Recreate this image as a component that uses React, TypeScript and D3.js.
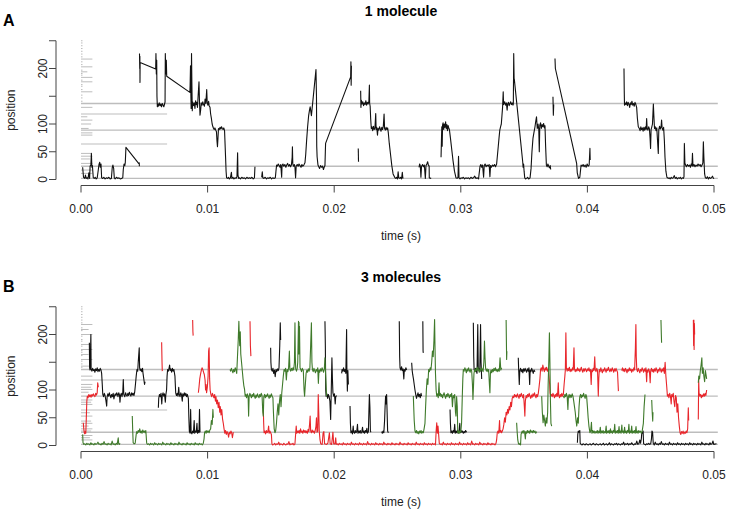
import React from "react";
import * as d3 from "d3";

type Pt = [number, number];

// time in ms, position in units
const X_TICKS = [0, 10, 20, 30, 40, 50];
const X_TICK_LABELS = ["0.00", "0.01", "0.02", "0.03", "0.04", "0.05"];
const Y_TICKS = [0, 50, 100, 150, 200, 250];
const Y_TICK_LABELS = ["0", "50", "100", "", "200", ""];

const LEVELS_FULL = [2, 24, 89, 137];
const LEVELS_MID = [64, 118];
const MID_END = 6.8;
const FULL_END = 50.3;

const TOP_RUG = [11, 17, 29, 37, 42, 47, 80, 84, 92, 100, 107, 113, 130, 158, 176, 184, 194, 203, 217];
const TOP_RUG_LEN = [0.9, 0.9, 0.9, 0.7, 0.9, 0.8, 0.9, 0.9, 0.6, 0.8, 0.9, 0.5, 0.9, 0.9, 0.9, 0.9, 0.5, 0.9, 0.9];
const BOT_RUG = [10, 14, 18, 26, 30, 35, 40, 44, 53, 59, 74, 78, 82, 96, 101, 105, 110, 125, 143, 155, 164, 173, 182, 200, 209, 218];
const BOT_RUG_LEN = [0.9, 0.7, 0.9, 0.8, 0.9, 0.6, 0.9, 0.8, 0.9, 0.7, 0.9, 0.8, 0.9, 0.6, 0.9, 0.8, 0.9, 0.9, 0.7, 0.9, 0.6, 0.9, 0.8, 0.9, 0.6, 0.9];
const FINE_RUG = [141, 147, 152, 162, 168, 171, 179, 188, 191, 197, 207, 212, 221, 226, 231, 236, 241, 246, 250];

// ---------- 1 molecule (black) ----------
const m1a: Pt[] = [[0.13,22],[0.2,4],[0.3,2],[0.35,8],[0.42,2],[0.5,3],[0.55,1],[0.62,12],[0.68,2],[0.72,24],[0.78,26],[0.82,47],[0.86,22],[0.9,25],[0.97,3],[1.05,2],[1.12,4],[1.2,1],[1.28,3],[1.37,18],[1.42,27],[1.48,31],[1.52,22],[1.58,28],[1.63,3],[1.72,2],[1.8,4],[1.9,1],[2.0,3],[2.1,2],[2.2,4],[2.3,1],[2.4,2],[2.47,22],[2.52,26],[2.58,20],[2.63,3],[2.7,1],[2.8,4],[2.9,2],[3.0,3],[3.1,1],[3.2,2],[3.3,3],[3.34,18],[3.4,28],[3.46,25],[3.5,31],[3.55,58],[4.55,29],[4.6,30],[4.61,24]];
const m1b: Pt[] = [[4.62,227],[4.64,200],[4.65,222],[4.66,175],[4.67,211],[5.9,199],[5.92,227],[5.95,190],[5.98,215],[6.0,150],[6.03,131],[6.08,136],[6.12,132],[6.18,138],[6.24,133],[6.3,136],[6.36,131],[6.42,137],[6.48,134],[6.54,131],[6.6,136],[6.64,140],[6.66,227],[6.7,190],[6.74,215],[6.77,186],[8.6,157],[8.62,170],[8.65,205],[8.68,150],[8.7,128],[8.73,227],[8.76,170],[8.79,124],[8.82,140],[8.88,133],[8.95,138],[9.0,128],[9.05,142],[9.1,135],[9.15,139],[9.2,130],[9.25,150],[9.32,176],[9.36,140],[9.4,116],[9.45,125],[9.5,138],[9.56,134],[9.62,140],[9.68,135],[9.75,132],[9.8,145],[9.86,137],[9.93,162],[9.97,138],[10.02,134],[10.08,141],[10.12,133],[10.19,130],[10.24,118],[10.3,110],[10.36,100],[10.42,95],[10.47,92],[10.52,90],[10.58,93],[10.64,89],[10.7,86],[10.74,70],[10.78,59],[10.82,75],[10.86,92],[10.92,90],[10.98,94],[11.04,91],[11.1,95],[11.16,92],[11.22,90],[11.28,93],[11.34,88],[11.37,70],[11.42,40],[11.46,15],[11.5,3],[11.58,2],[11.65,4],[11.72,1],[11.8,3],[11.88,13],[11.92,2],[12.0,4],[12.08,1],[12.16,3],[12.24,2],[12.32,5],[12.37,48],[12.4,8],[12.45,2],[12.52,3],[12.6,1],[12.7,4],[12.8,2],[12.9,3],[13.0,1],[13.1,4],[13.2,2],[13.3,3],[13.4,2],[13.5,4],[13.6,1],[13.7,3],[13.74,23]];
const m1c: Pt[] = [[14.27,4],[14.32,14],[14.36,3],[14.45,2],[14.55,4],[14.65,1],[14.75,3],[14.85,2],[14.95,4],[15.05,1],[15.15,3],[15.25,2],[15.35,3],[15.4,15],[15.45,26],[15.5,24],[15.58,28],[15.65,25],[15.72,22],[15.78,27],[15.85,4],[15.88,25],[15.95,28],[16.02,24],[16.1,27],[16.18,22],[16.25,26],[16.32,29],[16.4,24],[16.48,27],[16.55,23],[16.62,26],[16.68,40],[16.7,59],[16.73,28],[16.78,24],[16.85,27],[16.9,22],[16.95,3],[17.0,25],[17.08,27],[17.15,24],[17.22,28],[17.3,25],[17.38,22],[17.45,27],[17.52,24],[17.6,26],[17.69,30],[17.75,45],[17.82,70],[17.9,95],[17.98,115],[18.05,125],[18.1,131],[18.14,125],[18.2,115],[18.56,198],[18.6,150],[18.62,60],[18.65,41],[18.72,26],[18.78,23],[18.85,20],[18.92,25],[19.0,22],[19.08,24],[19.15,18],[19.22,23],[19.27,25],[19.3,50],[19.32,65],[21.3,185],[21.32,212],[21.34,170],[21.36,205]];
const m1d: Pt[] = [[21.9,56],[21.92,32]];
const m1e: Pt[] = [[22.09,160],[22.11,130],[22.14,143],[22.2,136],[22.26,140],[22.32,133],[22.38,138],[22.44,135],[22.5,142],[22.56,134],[22.62,139],[22.68,136],[22.74,141],[22.78,170],[22.8,137],[22.84,132],[22.88,110],[22.93,92],[22.98,95],[23.04,88],[23.1,96],[23.16,90],[23.22,93],[23.28,119],[23.31,90],[23.36,94],[23.42,80],[23.46,92],[23.52,89],[23.58,95],[23.64,91],[23.7,87],[23.76,94],[23.82,90],[23.88,96],[23.94,118],[23.98,92],[24.04,89],[24.1,94],[24.16,90],[24.22,93],[24.27,85],[24.35,65],[24.45,45],[24.55,25],[24.65,10],[24.8,3],[24.86,2],[24.92,4],[25.0,1],[25.05,14],[25.1,3],[25.18,2],[25.25,4],[25.32,1],[25.38,13],[25.42,3],[25.46,2]];
const m1f: Pt[] = [[26.7,22],[26.75,28],[26.8,25],[26.85,4],[26.9,24],[26.98,27],[27.05,23],[27.12,26],[27.2,2],[27.25,25],[27.32,28],[27.38,32],[27.44,26],[27.5,24],[27.51,3],[27.6,2],[27.66,3]];
const m1g: Pt[] = [[28.44,40],[28.47,70],[28.5,95],[28.53,60],[28.56,98],[28.6,102],[28.65,90],[28.7,100],[28.75,94],[28.8,104],[28.85,92],[28.9,99],[28.95,88],[29.0,97],[29.05,93],[29.1,90],[29.18,75],[29.28,55],[29.38,35],[29.5,15],[29.62,3],[29.7,2],[29.78,4],[29.82,42],[29.86,3],[29.94,1],[30.02,3],[30.1,2],[30.2,4],[30.3,1],[30.4,3],[30.5,2],[30.6,3],[30.7,1],[30.8,4],[30.9,2],[31.0,3],[31.1,6],[31.2,2],[31.3,3],[31.4,1],[31.52,24],[31.58,27],[31.65,22],[31.72,26],[31.8,4],[31.85,25],[31.92,28],[32.0,23],[32.08,26],[32.16,24],[32.24,27],[32.3,5],[32.35,25],[32.42,22],[32.5,26],[32.58,24],[32.66,27],[32.74,23],[32.83,28],[32.9,45],[32.96,60],[33.02,75],[33.08,89],[33.14,95],[33.2,100],[33.25,115],[33.3,130],[33.35,158],[33.38,135],[33.41,137],[33.47,140],[33.53,134],[33.6,138],[33.66,125],[33.7,136],[33.76,139],[33.82,133],[33.88,137],[33.94,140],[34.0,135],[34.06,138],[34.12,134],[34.15,136],[34.18,227],[34.21,182],[34.23,180],[34.89,32],[34.92,22],[34.96,28],[35.0,15],[35.05,3],[35.12,1],[35.2,2],[35.28,4],[35.36,1],[35.47,3],[35.55,20],[35.62,50],[35.7,74],[35.78,85],[35.86,95],[35.92,105],[35.98,113],[36.04,92],[36.1,100],[36.16,90],[36.2,50],[36.24,98],[36.3,102],[36.36,92],[36.42,99],[36.48,95],[36.54,101],[36.6,93],[36.65,97],[36.7,60],[36.76,26],[36.82,23],[36.88,28],[36.94,24],[37.0,21],[37.06,25],[37.1,18]];
const m1h: Pt[] = [[37.28,149],[37.31,116],[37.34,135]];
const m1i: Pt[] = [[37.44,218],[37.47,200],[39.15,29],[39.2,12],[39.3,2],[39.4,4],[39.5,26],[39.58,24],[39.66,27],[39.74,23],[39.82,26],[39.9,22],[39.98,28],[40.06,24],[40.14,26],[40.2,56],[40.22,35]];
const m1j: Pt[] = [[42.89,200],[42.91,160],[42.93,134],[42.98,138],[43.04,135],[43.1,140],[43.16,133],[43.22,139],[43.28,136],[43.34,130],[43.4,138],[43.46,135],[43.52,141],[43.58,134],[43.64,137],[43.7,132],[43.76,139],[43.82,136],[43.89,130],[43.95,110],[44.02,95],[44.1,92],[44.16,88],[44.22,95],[44.28,90],[44.34,93],[44.4,87],[44.46,94],[44.52,89],[44.58,95],[44.64,90],[44.68,110],[44.72,92],[44.78,89],[44.84,95],[44.9,91],[44.95,75],[44.99,56],[45.03,90],[45.08,94],[45.14,100],[45.18,120],[45.21,136],[45.25,115],[45.3,92],[45.36,95],[45.42,88],[45.48,93],[45.54,70],[45.6,47],[45.64,90],[45.7,96],[45.76,91],[45.82,95],[45.86,107],[45.9,93],[45.96,89],[46.02,94],[46.08,70],[46.13,40],[46.2,15],[46.28,4],[46.39,2],[46.46,3],[46.54,1],[46.62,4],[46.7,2],[46.78,3],[46.86,7],[46.94,2],[47.02,4],[47.1,1],[47.18,3],[47.26,2],[47.34,4],[47.42,1],[47.5,3],[47.58,2],[47.63,5],[47.66,65],[47.7,30],[47.75,26],[47.82,23],[47.9,27],[47.98,24],[48.06,26],[48.14,22],[48.2,28],[48.26,25],[48.3,47],[48.34,24],[48.42,27],[48.5,23],[48.58,26],[48.66,24],[48.74,28],[48.82,25],[48.9,27],[48.98,23],[49.06,26],[49.12,30],[49.16,68],[49.2,40],[49.26,10],[49.32,3],[49.4,2],[49.48,5],[49.56,1],[49.64,4],[49.72,2],[49.8,3],[49.88,6],[49.96,2],[50.0,3]];
const ONE_MOLECULE = [m1a, m1b, m1c, m1d, m1e, m1f, m1g, m1h, m1i, m1j];

// ---------- 3 molecules: black ----------
const b1: Pt[] = [[0.66,185],[0.68,140],[0.72,136],[0.78,200],[0.8,138],[0.86,134],[0.92,139],[0.98,135],[1.04,137],[1.1,132],[1.16,138],[1.22,135],[1.28,140],[1.34,133],[1.4,137],[1.46,134],[1.52,139],[1.58,136],[1.63,130],[1.68,110],[1.72,92],[1.78,88],[1.84,94],[1.9,90],[1.96,82],[2.03,71],[2.06,87],[2.12,93],[2.18,89],[2.24,95],[2.3,90],[2.36,86],[2.42,92],[2.48,88],[2.54,94],[2.6,84],[2.64,89],[2.7,93],[2.76,90],[2.82,95],[2.88,92],[2.92,88],[2.98,95],[3.04,91],[3.08,78],[3.12,90],[3.18,94],[3.24,88],[3.3,96],[3.34,119],[3.38,92],[3.46,88],[3.52,95],[3.58,91],[3.64,89],[3.7,94],[3.76,90],[3.82,96],[3.88,92],[3.94,89],[4.0,95],[4.06,91],[4.12,94],[4.18,90],[4.24,96],[4.3,110],[4.36,125],[4.42,137],[4.48,134],[4.52,150],[4.6,176],[4.63,140],[4.68,135],[4.74,138],[4.8,133],[4.86,139],[4.9,130],[4.96,120],[5.02,110],[5.06,115]];
const b2: Pt[] = [[6.11,68],[6.14,85],[6.2,92],[6.26,88],[6.32,94],[6.38,75],[6.42,90],[6.48,95],[6.54,89],[6.6,93],[6.66,78],[6.7,91],[6.76,100],[6.8,125],[6.84,137],[6.9,134],[6.96,140],[7.0,145],[7.04,135],[7.1,138],[7.16,132],[7.22,139],[7.28,134],[7.34,137],[7.42,125],[7.48,95],[7.54,90],[7.6,94],[7.66,89],[7.72,105],[7.76,92],[7.82,88],[7.88,95],[7.94,91],[8.0,80],[8.04,93],[8.1,89],[8.16,95],[8.22,90],[8.28,94],[8.34,88],[8.4,92],[8.48,85],[8.52,50],[8.56,25],[8.62,22],[8.66,65],[8.7,24],[8.76,21],[8.82,26],[8.88,23],[8.94,45],[8.98,22],[9.04,26],[9.1,24],[9.16,40],[9.2,22],[9.26,27],[9.32,23],[9.36,65],[9.4,24]];
const b3: Pt[] = [[14.98,176],[15.0,150],[15.04,137],[15.1,134],[15.16,139],[15.22,130],[15.28,136],[15.34,124],[15.4,137],[15.46,133],[15.52,138],[15.58,135],[15.64,140],[15.7,180],[15.74,221],[15.77,190]];
const b4: Pt[] = [[19.27,224],[19.3,180],[19.33,100],[19.36,89],[19.42,93],[19.48,85],[19.54,92],[19.6,88],[19.66,80],[19.72,47],[19.76,90],[19.82,158],[19.86,120],[19.9,95],[19.96,89],[20.02,93],[20.08,75],[20.12,88],[20.2,90]];
const b5: Pt[] = [[20.59,130],[20.62,137],[20.68,134],[20.74,140],[20.8,133],[20.86,137],[20.92,130],[20.98,209],[21.0,140],[21.04,98],[21.08,135],[21.12,110]];
const b6: Pt[] = [[21.25,71],[21.28,40],[21.32,23],[21.38,26],[21.44,21],[21.5,35],[21.54,24],[21.6,22],[21.66,27],[21.72,23],[21.78,25],[21.84,38],[21.88,22],[21.94,26],[22.0,23],[22.06,27],[22.12,22],[22.18,25],[22.24,33],[22.28,23],[22.34,26],[22.4,22],[22.46,27],[22.52,24],[22.58,31],[22.62,22],[22.7,25],[22.74,60],[22.78,92],[22.82,70],[22.86,26],[22.9,24]];
const b7: Pt[] = [[23.75,25],[23.8,22],[23.86,26],[23.92,23],[23.98,45],[24.02,70],[24.06,89],[24.1,75],[24.14,92],[24.18,60],[24.22,26],[24.28,23]];
const b8: Pt[] = [[25.14,224],[25.17,160],[25.2,140],[25.26,136],[25.32,142],[25.38,135],[25.44,138],[25.5,120],[25.54,137],[25.6,134],[25.66,140],[25.72,136]];
const b9: Pt[] = [[26.12,149],[26.16,135],[26.2,128],[26.26,120],[26.32,110],[26.38,100],[26.44,92],[26.5,85],[26.56,90],[26.62,95],[26.68,88],[26.74,92],[26.8,86],[26.86,94],[26.9,89]];
const b10: Pt[] = [[27.0,224],[27.02,170],[27.04,167]];
const b11: Pt[] = [[29.15,65],[29.18,40],[29.22,23],[29.28,26],[29.34,22],[29.4,27],[29.46,24],[29.52,38],[29.56,22],[29.62,26],[29.68,23],[29.74,27],[29.8,22],[29.86,25],[29.92,40],[29.96,23],[30.02,27],[30.08,24],[30.14,26],[30.2,22],[30.26,25],[30.32,23],[30.38,27],[30.46,24]];
const b12: Pt[] = [[30.99,221],[31.02,160],[31.05,137],[31.1,134],[31.16,139],[31.22,135],[31.28,130],[31.3,160],[31.34,218],[31.38,140],[31.44,137],[31.5,133],[31.56,218],[31.6,150],[31.65,120]];
const b13: Pt[] = [[34.54,158],[34.57,137],[34.62,110],[34.66,135],[34.72,139],[34.78,133],[34.84,137],[34.9,131],[34.96,138],[35.02,134],[35.08,139],[35.14,135],[35.2,132],[35.26,138],[35.32,134],[35.38,140],[35.44,110],[35.48,136],[35.54,133],[35.6,139],[35.66,135],[35.72,130],[35.78,136],[35.86,133]];
const b14: Pt[] = [[39.21,5],[39.24,20],[39.28,26],[39.34,24],[39.4,27],[39.43,4],[39.5,2],[39.58,1],[39.66,3],[39.74,2],[39.82,1],[39.9,3],[39.98,2],[40.06,1],[40.14,2],[40.22,3],[40.3,1],[40.38,2],[40.46,4],[40.54,2],[40.62,1],[40.7,3],[40.78,2],[40.86,1],[40.94,2],[41.02,3],[41.1,1],[41.18,2],[41.26,4],[41.34,1],[41.42,2],[41.5,3],[41.58,1],[41.66,2],[41.74,5],[41.82,1],[41.9,3],[41.98,2],[42.06,1],[42.14,3],[42.22,2],[42.3,4],[42.38,1],[42.46,3],[42.54,2],[42.62,1],[42.7,3],[42.78,2],[42.86,6],[42.94,1],[43.02,3],[43.1,2],[43.18,4],[43.26,1],[43.34,3],[43.42,2],[43.5,5],[43.58,2],[43.66,1],[43.74,3],[43.82,2],[43.9,8],[43.98,2],[44.06,3],[44.14,10],[44.2,4],[44.26,12],[44.3,24],[44.36,22],[44.4,26],[44.44,3],[44.52,2],[44.6,1],[44.68,3],[44.76,2],[44.84,4],[44.92,2],[45.0,3],[45.06,12],[45.1,26],[45.15,24],[45.2,4],[45.28,1],[45.36,6],[45.44,2],[45.52,3],[45.6,1],[45.68,4],[45.76,2],[45.84,7],[45.92,2],[46.0,3],[46.08,1],[46.16,4],[46.24,2],[46.32,3],[46.4,1],[46.48,6],[46.56,2],[46.64,3],[46.72,1],[46.8,4],[46.88,2],[46.96,3],[47.04,1],[47.12,5],[47.2,2],[47.28,3],[47.36,1],[47.44,4],[47.52,2],[47.6,3],[47.68,1],[47.76,4],[47.84,2],[47.92,3],[48.0,1],[48.08,5],[48.16,2],[48.24,3],[48.32,1],[48.4,4],[48.48,2],[48.56,3],[48.64,1],[48.72,4],[48.8,2],[48.88,3],[48.96,1],[49.04,6],[49.12,2],[49.2,3],[49.28,1],[49.36,4],[49.44,2],[49.52,3],[49.6,1],[49.68,5],[49.76,2],[49.84,3],[49.92,8],[49.98,2],[50.2,3]];
const BLACK_3 = [b1, b2, b3, b4, b5, b6, b7, b8, b9, b10, b11, b12, b13, b14];

// ---------- 3 molecules: red ----------
const r1: Pt[] = [[0.18,41],[0.22,30],[0.26,23],[0.3,21],[0.34,25],[0.38,22],[0.42,50],[0.46,80],[0.5,89],[0.56,86],[0.62,92],[0.68,88],[0.74,91],[0.8,87],[0.86,92],[0.92,89],[0.98,93],[1.04,90],[1.1,88],[1.16,94],[1.22,91],[1.28,95],[1.32,113],[1.37,105]];
const r2: Pt[] = [[6.37,186],[6.4,150],[6.42,134]];
const r3: Pt[] = [[8.82,226],[8.84,205],[8.86,198]];
const r4: Pt[] = [[9.27,95],[9.32,105],[9.38,120],[9.44,128],[9.5,135],[9.56,140],[9.62,137],[9.68,132],[9.74,128],[9.8,118],[9.84,100],[9.88,110],[9.92,95],[9.98,105],[10.04,125],[10.08,170],[10.12,176],[10.16,120],[10.2,100],[10.26,92],[10.32,88],[10.38,94],[10.44,90],[10.5,86],[10.56,92],[10.62,80],[10.66,88],[10.72,75],[10.78,82],[10.84,68],[10.9,78],[10.96,60],[11.0,70],[11.06,55],[11.12,65],[11.18,48],[11.24,40],[11.3,30],[11.36,22],[11.42,27],[11.48,20],[11.54,25],[11.6,22],[11.66,15],[11.72,24],[11.78,21],[11.84,26],[11.9,23],[11.96,14],[12.03,24]];
const r5: Pt[] = [[13.35,224],[13.38,180],[13.42,161]];
const r6: Pt[] = [[14.4,65],[14.43,40],[14.46,23],[14.52,26],[14.58,21],[14.64,27],[14.7,23],[14.76,25],[14.82,35],[14.86,22],[14.92,26],[14.98,23],[15.04,20],[15.08,3],[15.14,1],[15.22,2],[15.3,4],[15.38,1],[15.46,3],[15.54,2],[15.62,6],[15.7,1],[15.78,3],[15.86,2],[15.94,1],[16.02,4],[16.1,2],[16.18,1],[16.26,3],[16.34,2],[16.42,7],[16.5,1],[16.58,3],[16.66,2],[16.74,4],[16.82,1],[16.9,3],[16.96,23],[17.0,35],[17.04,22],[17.1,26],[17.16,23],[17.22,27],[17.28,22],[17.34,30],[17.4,24],[17.46,26],[17.52,22],[17.58,28],[17.64,24],[17.7,27],[17.76,23],[17.82,26],[17.88,22],[17.94,29],[18.0,25],[18.06,40],[18.1,53],[18.14,26],[18.2,23],[18.26,28],[18.32,24],[18.38,26],[18.44,22],[18.5,27],[18.56,35],[18.6,50],[18.64,24],[18.7,26],[18.74,92],[18.78,60],[18.82,26],[18.88,10],[18.94,3],[19.05,2],[19.12,22],[19.18,25],[19.24,3],[19.4,2],[19.5,4],[19.62,23],[19.68,3],[19.8,2],[19.9,24],[19.96,3],[20.06,3],[20.12,14],[20.16,2],[20.24,3],[20.32,1],[20.4,4],[20.48,2],[20.56,3],[20.64,1],[20.72,5],[20.8,2],[20.88,3],[20.96,1],[21.04,4],[21.12,2],[21.2,3],[21.28,1],[21.36,6],[21.44,2],[21.52,3],[21.6,1],[21.68,4],[21.76,2],[21.84,3],[21.92,1],[22.0,5],[22.08,2],[22.16,3],[22.24,1],[22.32,4],[22.4,2],[22.48,3],[22.56,1],[22.64,7],[22.72,2],[22.8,3],[22.88,1],[22.96,4],[23.04,2],[23.12,3],[23.2,1],[23.28,5],[23.36,2],[23.44,3],[23.52,1],[23.6,4],[23.68,2],[23.76,3],[23.84,1],[23.92,6],[24.0,2],[24.08,3],[24.16,1],[24.24,4],[24.32,2],[24.4,3],[24.48,1],[24.56,5],[24.64,2],[24.72,3],[24.8,1],[24.88,4],[24.96,2],[25.04,3],[25.12,1],[25.2,6],[25.28,2],[25.36,3],[25.44,1],[25.52,4],[25.6,2],[25.68,3],[25.76,1],[25.84,5],[25.92,2],[26.0,3],[26.08,1],[26.16,4],[26.24,2],[26.32,3],[26.4,1],[26.48,6],[26.56,2],[26.64,3],[26.72,1],[26.8,4],[26.88,2],[26.96,3],[27.04,1],[27.12,5],[27.2,2],[27.28,3],[27.36,1],[27.44,4],[27.52,2],[27.6,3],[27.68,1],[27.76,4],[27.84,2],[27.92,3],[28.0,1],[28.05,25],[28.1,41],[28.15,22],[28.2,35],[28.25,20],[28.3,4],[28.38,2],[28.46,3],[28.54,1],[28.62,6],[28.7,2],[28.78,3],[28.86,1],[28.94,4],[29.02,2],[29.1,3],[29.18,1],[29.26,5],[29.34,2],[29.42,3],[29.5,1],[29.58,4],[29.66,2],[29.74,3],[29.82,1],[29.9,6],[29.98,2],[30.06,3],[30.14,1],[30.22,4],[30.3,2],[30.38,3],[30.46,1],[30.54,5],[30.62,2],[30.7,3],[30.78,1],[30.86,8],[30.94,2],[31.02,3],[31.1,1],[31.18,4],[31.26,2],[31.34,3],[31.42,1],[31.5,6],[31.58,2],[31.66,3],[31.74,1],[31.82,4],[31.9,2],[31.98,3],[32.06,1],[32.14,5],[32.22,2],[32.3,3],[32.38,1],[32.46,4],[32.54,2],[32.62,3],[32.7,1],[32.78,4],[32.83,10],[32.88,23],[32.94,26],[33.0,22],[33.06,45],[33.1,24],[33.16,27],[33.22,23],[33.28,26],[33.34,30],[33.4,38],[33.46,50],[33.52,42],[33.58,60],[33.64,55],[33.7,65],[33.76,58],[33.82,70],[33.88,64],[33.94,78],[34.0,70],[34.06,85],[34.12,89],[34.18,86],[34.24,92],[34.3,88],[34.36,91],[34.42,87],[34.48,93],[34.54,89],[34.6,85],[34.66,92],[34.72,88],[34.78,94],[34.84,90],[34.9,86],[34.96,92],[35.02,70],[35.06,53],[35.1,80],[35.16,90],[35.22,86],[35.28,92],[35.34,88],[35.4,94],[35.46,89],[35.52,85],[35.58,91],[35.64,87],[35.7,93],[35.76,89],[35.82,95],[35.88,90],[35.94,86],[36.0,92],[36.06,88],[36.12,94],[36.18,105],[36.25,120],[36.3,137],[36.36,140],[36.42,134],[36.48,145],[36.54,138],[36.6,133],[36.66,140],[36.72,136],[36.78,141],[36.84,134],[36.9,138],[36.96,125],[37.02,110],[37.05,95],[37.1,89],[37.16,92],[37.22,88],[37.28,94],[37.34,90],[37.4,86],[37.46,92],[37.52,88],[37.58,94],[37.64,89],[37.7,113],[37.74,90],[37.8,86],[37.86,92],[37.92,88],[37.98,94],[38.04,89],[38.1,92],[38.16,110],[38.22,125],[38.26,137],[38.3,203],[38.34,140],[38.4,134],[38.46,139],[38.52,135],[38.58,141],[38.64,133],[38.7,137],[38.76,134],[38.82,140],[38.88,136],[38.94,176],[38.98,138],[39.04,133],[39.1,137],[39.16,134],[39.22,140],[39.28,135],[39.34,138],[39.4,133],[39.46,137],[39.52,141],[39.58,135],[39.64,132],[39.7,138],[39.76,134],[39.82,139],[39.88,136],[39.94,133],[40.0,138],[40.06,135],[40.12,140],[40.18,134],[40.24,137],[40.3,110],[40.34,136],[40.4,133],[40.46,139],[40.52,135],[40.58,160],[40.62,137],[40.68,133],[40.74,139],[40.8,135],[40.86,89],[40.9,120],[40.94,137],[41.0,133],[41.06,140],[41.12,135],[41.18,131],[41.24,137],[41.3,134],[41.36,140],[41.42,136],[41.48,132],[41.54,138],[41.6,135],[41.66,141],[41.72,136],[41.78,133],[41.84,138],[41.9,134],[41.96,140],[42.02,136],[42.08,132],[42.14,138],[42.2,134],[42.26,139],[42.32,135],[42.38,132],[42.45,98]];
const r7: Pt[] = [[42.71,135],[42.77,140],[42.83,134],[42.89,138],[42.95,133],[43.01,139],[43.07,136],[43.13,131],[43.19,137],[43.25,134],[43.31,140],[43.37,135],[43.43,138],[43.49,132],[43.55,137],[43.61,134],[43.67,140],[43.73,136],[43.79,175],[43.83,218],[43.86,160],[43.9,137],[43.96,133],[44.02,139],[44.08,135],[44.14,131],[44.2,137],[44.26,134],[44.32,140],[44.38,136],[44.44,132],[44.5,138],[44.56,134],[44.62,140],[44.68,115],[44.72,136],[44.78,132],[44.84,138],[44.9,134],[44.96,113],[45.0,135],[45.06,139],[45.12,133],[45.18,137],[45.24,132],[45.3,138],[45.36,134],[45.42,140],[45.48,136],[45.54,131],[45.6,137],[45.66,134],[45.72,140],[45.78,136],[45.84,132],[45.9,138],[45.96,134],[46.02,140],[46.08,130],[46.14,150],[46.2,125],[46.27,105],[46.32,89],[46.38,92],[46.44,86],[46.5,94],[46.56,89],[46.62,75],[46.66,92],[46.72,88],[46.78,94],[46.84,80],[46.9,70],[46.96,90],[47.02,86],[47.08,60],[47.14,75],[47.2,50],[47.26,35],[47.32,23],[47.38,20],[47.44,25],[47.5,22],[47.56,26],[47.62,21],[47.68,24],[47.74,22],[47.8,26],[47.86,23],[47.92,30],[47.97,68],[48.0,45]];
const r8: Pt[] = [[48.37,226],[48.39,180],[48.41,226],[48.43,173],[48.45,220],[48.47,200]];
const r9: Pt[] = [[48.76,47],[48.79,119],[48.82,95],[48.88,89],[48.94,92],[49.0,86],[49.06,91],[49.12,88],[49.18,93],[49.24,89],[49.3,94],[49.36,90],[49.42,100]];
const RED_3 = [r1, r2, r3, r4, r5, r6, r7, r8, r9];

// ---------- 3 molecules: green ----------
const g1: Pt[] = [[0.13,20],[0.16,5],[0.22,2],[0.3,3],[0.38,1],[0.46,4],[0.54,2],[0.62,3],[0.7,1],[0.78,5],[0.86,2],[0.94,3],[1.02,1],[1.1,4],[1.18,2],[1.26,3],[1.34,6],[1.42,2],[1.5,3],[1.58,1],[1.66,4],[1.74,2],[1.82,7],[1.9,2],[1.98,3],[2.06,1],[2.14,4],[2.22,2],[2.3,3],[2.38,1],[2.46,8],[2.54,2],[2.62,3],[2.7,1],[2.78,4],[2.86,2],[2.94,14],[2.98,3],[3.04,2],[3.08,4]];
const g2: Pt[] = [[4.05,53],[4.08,30],[4.12,5],[4.2,3],[4.28,4],[4.36,20],[4.4,25],[4.46,22],[4.52,27],[4.58,24],[4.64,30],[4.7,23],[4.76,26],[4.82,22],[4.88,28],[4.94,24],[5.0,26],[5.06,23],[5.12,27],[5.19,4],[5.26,2],[5.34,3],[5.42,1],[5.5,4],[5.58,2],[5.66,3],[5.74,1],[5.82,5],[5.9,2],[5.98,3],[6.06,1],[6.14,4],[6.22,2],[6.3,3],[6.38,1],[6.46,6],[6.54,2],[6.62,3],[6.7,1],[6.78,4],[6.86,2],[6.94,3],[7.02,1],[7.1,5],[7.18,2],[7.26,3],[7.34,1],[7.42,4],[7.5,2],[7.58,3],[7.66,1],[7.74,6],[7.82,2],[7.9,3],[7.98,1],[8.06,4],[8.14,2],[8.22,3],[8.3,1],[8.38,5],[8.46,2],[8.54,3],[8.62,1],[8.7,4],[8.78,2],[8.86,3],[8.94,1],[9.02,5],[9.1,2],[9.18,3],[9.26,1],[9.34,4],[9.42,2],[9.5,3],[9.58,1],[9.66,4],[9.72,12],[9.76,23],[9.82,26],[9.88,22],[9.94,27],[10.0,24],[10.06,26],[10.12,23],[10.18,28],[10.24,30],[10.3,45],[10.36,38],[10.42,65],[10.45,50]];
const g3: Pt[] = [[11.77,137],[11.82,134],[11.88,139],[11.94,135],[12.0,131],[12.06,137],[12.12,133],[12.18,140],[12.24,136],[12.3,130],[12.36,160],[12.42,190],[12.47,224],[12.5,200],[12.54,180],[12.58,205],[12.62,165],[12.68,150],[12.74,135],[12.8,120],[12.86,108],[12.92,101],[12.97,89],[13.02,92],[13.08,86],[13.14,93],[13.2,89],[13.24,53],[13.28,88],[13.34,94],[13.4,90],[13.46,86],[13.52,92],[13.58,88],[13.64,94],[13.7,89],[13.76,85],[13.82,91],[13.88,87],[13.94,93],[14.0,89],[14.06,86],[14.12,92],[14.18,88],[14.24,94],[14.3,90],[14.36,60],[14.4,53],[14.44,88],[14.5,92],[14.56,86],[14.62,91],[14.68,88],[14.74,93],[14.8,89],[14.86,85],[14.92,91],[14.98,87],[15.04,93],[15.1,89],[15.16,86],[15.2,60],[15.26,30],[15.32,23],[15.38,27],[15.44,40],[15.5,60],[15.56,75],[15.62,55],[15.68,80],[15.74,92],[15.8,70],[15.86,95],[15.92,110],[15.98,125],[16.04,137],[16.1,134],[16.16,139],[16.22,118],[16.28,137],[16.34,133],[16.4,140],[16.46,170],[16.5,137],[16.56,134],[16.62,139],[16.68,135],[16.74,140],[16.8,136],[16.86,150],[16.9,221],[16.93,160],[16.96,138],[17.02,134],[17.08,139],[17.12,150],[17.16,200],[17.18,224],[17.2,165],[17.22,222],[17.24,170],[17.26,215],[17.3,140],[17.36,137],[17.42,133],[17.48,139],[17.56,135],[17.62,100],[17.66,89],[17.72,110],[17.78,130],[17.84,136],[17.9,132],[17.96,138],[18.02,134],[18.08,140],[18.14,180],[18.2,221],[18.24,150],[18.28,137],[18.34,133],[18.4,139],[18.46,135],[18.52,131],[18.58,137],[18.64,134],[18.7,140],[18.75,112],[18.8,136],[18.86,132],[18.92,138],[18.98,134],[19.04,140],[19.1,136],[19.16,132],[19.22,138],[19.27,158],[19.32,130],[19.4,89]];
const g4: Pt[] = [[26.25,89],[26.28,70],[26.32,45],[26.38,26],[26.44,23],[26.5,27],[26.56,22],[26.62,25],[26.68,21],[26.74,26],[26.8,23],[26.86,27],[26.92,22],[26.98,25],[27.04,23],[27.1,30],[27.17,40],[27.22,70],[27.28,100],[27.34,120],[27.4,110],[27.46,137],[27.52,133],[27.58,140],[27.64,136],[27.7,150],[27.76,170],[27.82,160],[27.88,190],[27.93,227],[27.96,180],[28.0,130],[28.05,100],[28.1,89],[28.16,93],[28.22,86],[28.28,113],[28.32,90],[28.38,94],[28.44,88],[28.5,92],[28.56,86],[28.62,91],[28.68,95],[28.74,89],[28.8,85],[28.86,92],[28.92,88],[28.98,94],[29.04,90],[29.1,86],[29.16,92],[29.22,88],[29.28,94],[29.34,70],[29.4,90],[29.46,86],[29.52,92],[29.58,60],[29.62,53],[29.67,88],[29.72,70],[29.76,23],[29.82,26],[29.88,22],[29.94,27],[30.0,24],[30.06,40],[30.12,90],[30.16,120],[30.2,137],[30.26,134],[30.32,140],[30.38,136],[30.44,131],[30.5,138],[30.56,134],[30.62,140],[30.68,135],[30.74,132],[30.8,138],[30.86,134],[30.92,110],[30.96,83],[31.0,105],[31.04,130],[31.1,137],[31.16,133],[31.22,139],[31.28,135],[31.34,141],[31.4,136],[31.46,132],[31.52,138],[31.58,134],[31.64,140],[31.7,137],[31.76,133],[31.82,150],[31.87,188],[31.91,160],[31.96,139],[32.02,134],[32.08,138],[32.14,133],[32.2,137],[32.26,110],[32.3,95],[32.34,130],[32.38,136],[32.44,131],[32.5,137],[32.56,133],[32.62,139],[32.68,135],[32.74,140],[32.8,134],[32.86,137],[32.92,133],[32.98,138],[33.04,134],[33.1,158],[33.16,136],[33.23,140]];
const g5: Pt[] = [[33.58,226],[33.6,190],[33.62,155],[33.64,170]];
const g6: Pt[] = [[34.41,41],[34.45,25],[34.5,10],[34.56,3],[34.62,2],[34.68,4],[34.72,1],[34.76,20],[34.8,23],[34.86,26],[34.92,22],[34.98,27],[35.04,24],[35.1,12],[35.14,25],[35.2,22],[35.26,27],[35.32,23],[35.38,26],[35.44,22],[35.5,28],[35.56,24],[35.62,26],[35.68,23],[35.74,27],[35.8,24],[35.86,26],[35.92,22],[35.99,25]];
const g7: Pt[] = [[36.39,89],[36.44,60],[36.5,41],[36.56,55],[36.62,45],[36.68,35],[36.74,50],[36.8,40],[36.86,60],[36.9,110],[36.96,160],[37.0,203],[37.04,150],[37.08,80],[37.12,40],[37.18,35]];
const g8: Pt[] = [[38.1,89],[38.16,86],[38.22,92],[38.28,88],[38.34,94],[38.4,89],[38.46,65],[38.5,88],[38.56,92],[38.62,86],[38.68,91],[38.74,87],[38.8,93],[38.86,89],[38.92,80],[38.98,70],[39.04,60],[39.1,45],[39.16,35],[39.22,50],[39.28,40],[39.34,70],[39.4,88],[39.46,92],[39.52,86],[39.58,91],[39.64,88],[39.7,94],[39.76,89],[39.82,85],[39.88,92],[39.94,88],[40.0,70],[40.06,50],[40.12,35],[40.2,23],[40.26,26],[40.32,42],[40.36,22],[40.42,27],[40.48,23],[40.54,26],[40.6,22],[40.66,25],[40.72,23],[40.78,27],[40.84,22],[40.9,26],[40.96,23],[41.02,33],[41.06,22],[41.12,26],[41.18,23],[41.24,27],[41.3,22],[41.36,25],[41.42,23],[41.48,35],[41.52,22],[41.58,26],[41.64,23],[41.7,27],[41.76,22],[41.82,30],[41.86,23],[41.92,26],[41.98,22],[42.04,27],[42.1,24],[42.16,38],[42.2,22],[42.26,26],[42.32,23],[42.38,27],[42.44,22],[42.5,34],[42.54,23],[42.6,26],[42.66,22],[42.72,37],[42.76,24],[42.82,26],[42.88,22],[42.94,33],[42.98,23],[43.04,26],[43.1,22],[43.16,27],[43.22,24],[43.28,38],[43.32,22],[43.38,26],[43.44,23],[43.5,35],[43.54,22],[43.6,26],[43.66,23],[43.72,27],[43.78,22],[43.84,34],[43.88,23],[43.94,26],[44.0,22],[44.06,27],[44.12,24],[44.2,26],[44.26,22],[44.32,25],[44.42,40],[44.48,70],[44.55,92]];
const g9: Pt[] = [[45.08,82],[45.12,60],[45.16,44],[45.18,60]];
const g10: Pt[] = [[45.81,226],[45.84,200],[45.86,185]];
const g11: Pt[] = [[48.76,113],[48.8,125],[48.86,120],[48.92,135],[48.98,145],[49.04,158],[49.08,130],[49.14,140],[49.2,125],[49.26,115],[49.32,135],[49.42,120]];
const GREEN_3 = [g1, g2, g3, g4, g5, g6, g7, g8, g9, g10, g11];

const FONT = "'Liberation Sans', Arial, Helvetica, sans-serif";
const GRAY = "#bdbdbd";
const AXIS = "#444";

type Trace = { color: string; segs: Pt[][] };

function Panel(props: { dy: number; title: string; letter: string; traces: Trace[]; rug: number[]; rugLen: number[] }) {
  const { dy, title, letter, traces, rug, rugLen } = props;
  const x = d3.scaleLinear().domain([0, 50]).range([81, 714]);
  const y = d3.scaleLinear().domain([0, 250]).range([179.5 + dy, 40.75 + dy]);
  const line = d3.line<Pt>().x((d) => x(d[0])).y((d) => y(d[1]));
  const axisY = 185.5 + dy;
  const axisX = 56;
  const midY = (y(0) + y(250)) / 2;
  return (
    <g>
      <text x={3} y={26 + dy} fontFamily={FONT} fontWeight="bold" fontSize={16}>{letter}</text>
      <text x={401} y={16 + dy} fontFamily={FONT} fontWeight="bold" fontSize={14} textAnchor="middle">{title}</text>
      {FINE_RUG.map((v, i) => (
        <line key={"f" + i} x1={x(0)} x2={x(0.12)} y1={y(v)} y2={y(v)} stroke={GRAY} strokeWidth={1} />
      ))}
      {rug.map((v, i) => (
        <line key={"r" + i} x1={x(0)} x2={x(rugLen[i])} y1={y(v)} y2={y(v)} stroke={GRAY} strokeWidth={1} />
      ))}
      {LEVELS_MID.map((v, i) => (
        <line key={"m" + i} x1={x(0)} x2={x(MID_END)} y1={y(v)} y2={y(v)} stroke={GRAY} strokeWidth={1.2} />
      ))}
      {LEVELS_FULL.map((v, i) => (
        <line key={"l" + i} x1={x(0)} x2={x(FULL_END)} y1={y(v)} y2={y(v)} stroke={GRAY} strokeWidth={1.4} />
      ))}
      {traces.map((tr, ti) => (
        <g key={"t" + ti}>
          {tr.segs.map((s, si) => (
            <path key={si} d={line(s) || ""} fill="none" stroke={tr.color} strokeWidth={1.1} strokeLinejoin="round" />
          ))}
        </g>
      ))}
      <line x1={x(0)} x2={x(50)} y1={axisY} y2={axisY} stroke={AXIS} strokeWidth={1} />
      {X_TICKS.map((t, i) => (
        <g key={"xt" + i}>
          <line x1={x(t)} x2={x(t)} y1={axisY} y2={axisY + 7} stroke={AXIS} strokeWidth={1} />
          <text x={x(t)} y={axisY + 27} fontFamily={FONT} fontSize={12} textAnchor="middle" fill="#222">{X_TICK_LABELS[i]}</text>
        </g>
      ))}
      <text x={401} y={axisY + 54} fontFamily={FONT} fontSize={12} textAnchor="middle" fill="#222">time (s)</text>
      <line x1={axisX} x2={axisX} y1={y(0)} y2={y(250)} stroke={AXIS} strokeWidth={1} />
      {Y_TICKS.map((v, i) => (
        <g key={"yt" + i}>
          <line x1={axisX - 7} x2={axisX} y1={y(v)} y2={y(v)} stroke={AXIS} strokeWidth={1} />
          {Y_TICK_LABELS[i] && (
            <text transform={`translate(47,${y(v)}) rotate(-90)`} fontFamily={FONT} fontSize={12} textAnchor="middle" fill="#222">{Y_TICK_LABELS[i]}</text>
          )}
        </g>
      ))}
      <text transform={`translate(15,${midY}) rotate(-90)`} fontFamily={FONT} fontSize={12} textAnchor="middle" fill="#222">position</text>
    </g>
  );
}

export default function App() {
  return (
    <svg width={730} height={511} style={{ position: "absolute", left: 0, top: 0, background: "#fff" }}>
      <rect width={730} height={511} fill="#fff" />
      <Panel dy={0} title="1 molecule" letter="A" traces={[{ color: "#111", segs: ONE_MOLECULE }]} rug={TOP_RUG} rugLen={TOP_RUG_LEN} />
      <Panel
        dy={266}
        title="3 molecules"
        letter="B"
        traces={[
          { color: "#111", segs: BLACK_3 },
          { color: "#e8262b", segs: RED_3 },
          { color: "#3f7a2b", segs: GREEN_3 },
        ]}
        rug={BOT_RUG}
        rugLen={BOT_RUG_LEN}
      />
    </svg>
  );
}
